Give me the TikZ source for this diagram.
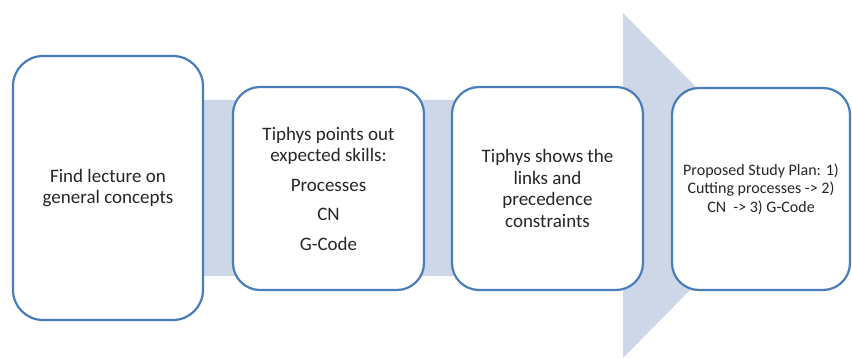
\documentclass[tikz,border=0pt]{standalone}
\usepackage{fontspec}
\setmainfont{Carlito}
\definecolor{bandcol}{HTML}{CED7E7}
\definecolor{boxline}{HTML}{4A7EBB}
\definecolor{txt}{HTML}{262626}
\begin{document}
\begin{tikzpicture}[x=1pt,y=-1pt,
  stepbox/.style={draw=boxline, line width=2.2pt, fill=white, rounded corners=27pt,
    inner sep=0pt, align=center, text=txt, font=\fontsize{19}{21.5}\selectfont},
  smallbox/.style={stepbox, font=\fontsize{16}{18.3}\selectfont}]
\useasboundingbox (0,0) rectangle (852,358);
\fill[white] (0,0) rectangle (852,358);
% big arrow
\fill[bandcol] (100,100) -- (623,100) -- (623,13) -- (793,185.5) -- (623,358) -- (623,276) -- (100,276) -- cycle;
% boxes
\node[stepbox, minimum width=190pt, minimum height=264pt, rounded corners=30pt] (b1) at (108,188) {Find lecture on\\general concepts};
\node[stepbox, minimum width=191pt, minimum height=203pt] (b2) at (328.5,188.5) {Tiphys points out\\expected skills:\\[8pt]Processes\\[8pt]CN\\[8pt]G-Code};
\node[stepbox, minimum width=191pt, minimum height=203pt] (b3) at (547.5,188.5) {Tiphys shows the\\links and\\precedence\\constraints};
\node[smallbox, minimum width=178pt, minimum height=202pt] (b4) at (761,189) {Proposed Study Plan: 1)\\Cutting processes -> 2)\\CN\ \ -> 3) G-Code};
\end{tikzpicture}
\end{document}
